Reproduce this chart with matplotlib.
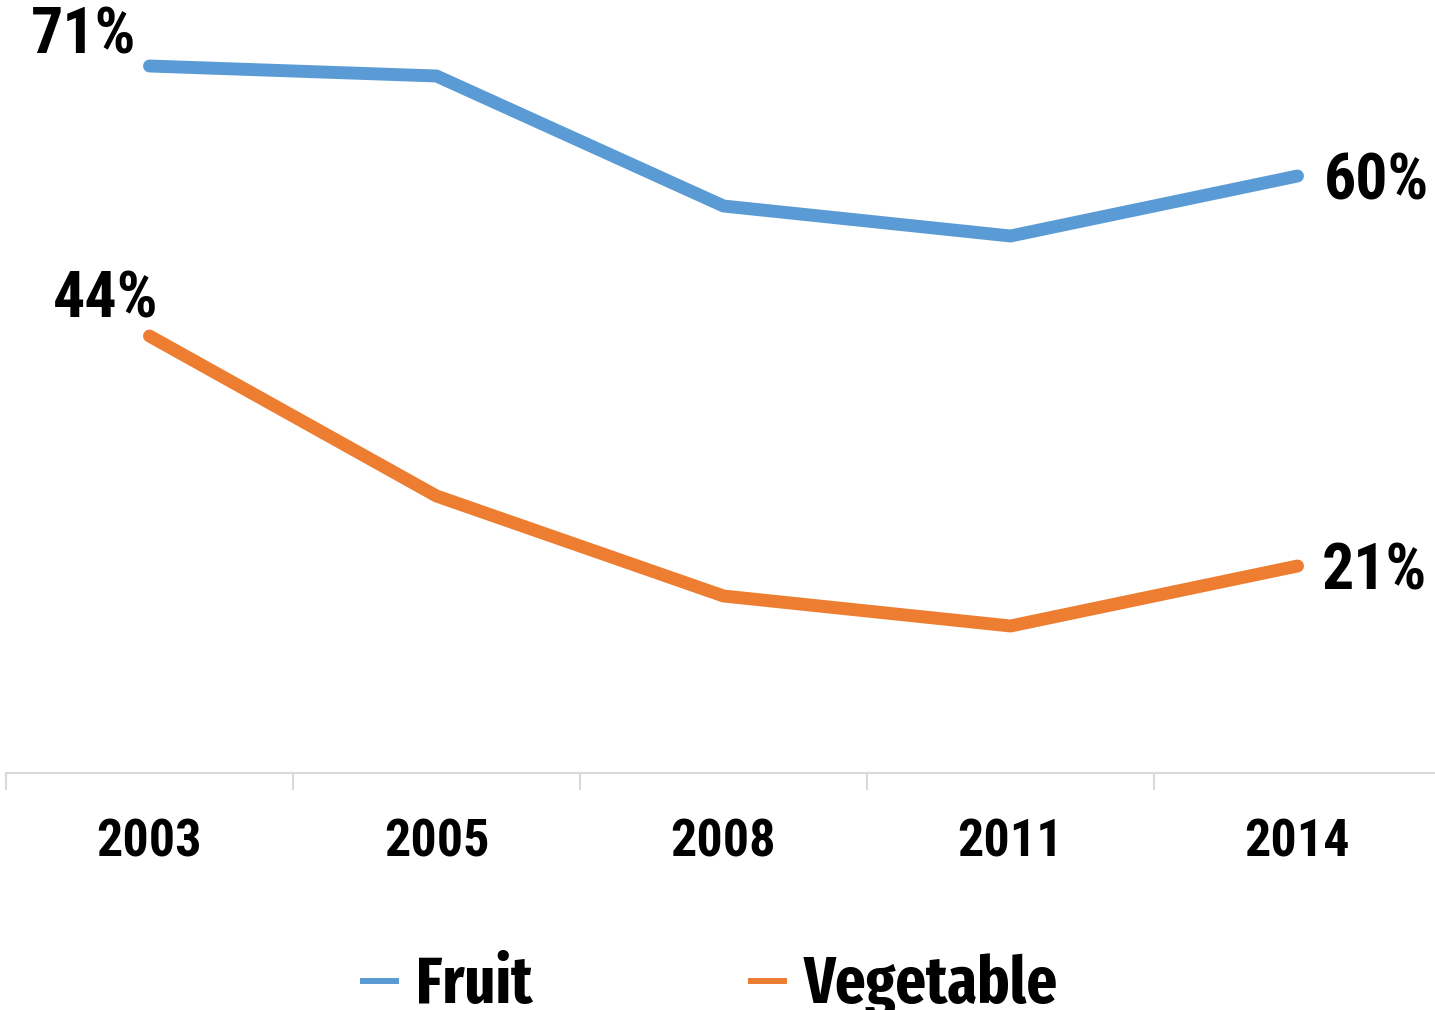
import matplotlib
matplotlib.use("Agg")
from matplotlib import pyplot as plt
from matplotlib.ticker import FixedLocator

plt.rcParams["font.family"] = ["Roboto Condensed", "DejaVu Sans"]
plt.rcParams["font.weight"] = "bold"

years = ["2003", "2005", "2008", "2011", "2014"]
fruit = [71, 70, 57, 54, 60]
vegetable = [44, 28, 18, 15, 21]
series_names = ["Fruit", "Vegetable"]
series_colors = ["#5B9BD5", "#ED7D31"]

dpi = 100
fig = plt.figure(figsize=(14.35, 10.10), dpi=dpi)
ax = fig.add_axes([6 / 1435, 1 - 773 / 1010, 1429 / 1435, 773 / 1010])

x = list(range(len(years)))
for vals, name, col in zip([fruit, vegetable], series_names, series_colors):
    ax.plot(x, vals, color=col, lw=9.3, solid_capstyle="round",
            solid_joinstyle="round", label=name, clip_on=False)

# end labels (offsets in pixels)
label_specs = [
    (fruit, 0, "right", (-13, 13)),
    (vegetable, 0, "right", (9, 18)),
    (fruit, 4, "left", (26, -23)),
    (vegetable, 4, "left", (24, -23)),
]
for vals, i, ha, off in label_specs:
    ax.annotate(f"{vals[i]}%", (x[i], vals[i]), xytext=off,
                textcoords="offset pixels", ha=ha, va="baseline",
                fontsize=46, fontweight="bold", annotation_clip=False)

ax.set_xlim(-0.5, -0.5 + 1429 / 287)
ax.set_ylim(0.3, 77.6)
ax.set_xticks(x)
ax.set_xticklabels(years, fontsize=37.5, fontweight="bold")
ax.tick_params(axis="x", which="major", length=0, pad=32)
ax.xaxis.set_minor_locator(FixedLocator([i - 0.5 for i in range(len(years) + 1)]))
ax.tick_params(axis="x", which="minor", length=12, width=1.5, color="#D9D9D9")
ax.set_yticks([])
for side in ["top", "right", "left"]:
    ax.spines[side].set_visible(False)
ax.spines["bottom"].set_color("#D9D9D9")
ax.spines["bottom"].set_linewidth(1.5)

leg = fig.legend(loc="center left", bbox_to_anchor=(360 / 1435, 1 - 986 / 1010),
                 ncol=2, frameon=False,
                 prop={"family": ["Fira Sans Extra Condensed", "DejaVu Sans"],
                       "weight": "bold", "size": 47},
                 handlelength=0.6, handletextpad=0.26, columnspacing=3.3,
                 borderpad=0, borderaxespad=0)
for h in leg.get_lines():
    h.set_linewidth(4.3)
    h.set_solid_capstyle("butt")

fig.savefig("out.png", dpi=dpi)
